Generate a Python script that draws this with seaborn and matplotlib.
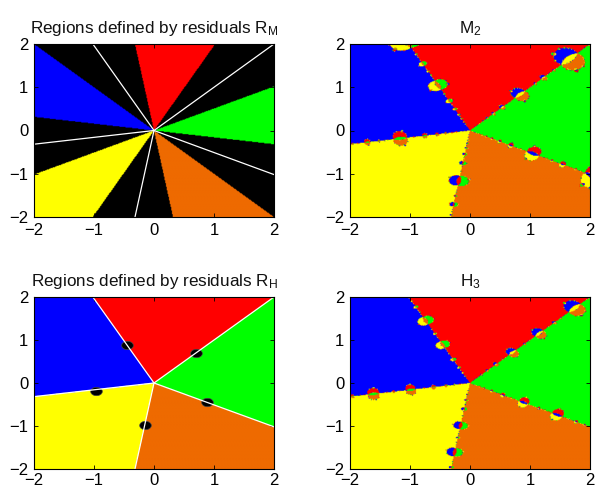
import numpy as np
import matplotlib
matplotlib.use("Agg")
import matplotlib.pyplot as plt
import seaborn as sns
import pandas as pd
from matplotlib.colors import to_rgb

# ---------------- data ----------------
root_angles_deg = [9, 81, 153, 225, 297]            # the five 5th roots of c = exp(i*45deg)
root_colors = ["#00FF00", "#FF0000", "#0000FF", "#FFFF00", "#EE6A00"]
boundary_angles_deg = [45, 117, 189, 261, 333]
wedge_half_width_deg = 18
dot_x = [-0.45, 0.70, 0.88, -0.15, -0.97]
dot_y = [0.88, 0.70, -0.45, -0.98, -0.18]
# rational iteration z <- z*(a*w+b)/(d*w+e), w = z^5/c
halley_coef = [4, 6, 6, 4]
m2_coef = [0.217, 0.783, 0.417, 0.583]
n_iter = 40
ticks = [-2, -1, 0, 1, 2]
titles = ["Regions defined by residuals $\\mathregular{R_M}$", "$\\mathregular{M_2}$",
          "Regions defined by residuals $\\mathregular{R_H}$", "$\\mathregular{H_3}$"]

# ---------------- style ----------------
sns.set_theme(style="ticks")
plt.rcParams["font.family"] = ["Liberation Sans", "DejaVu Sans"]
plt.rcParams["mathtext.fontset"] = "custom"
plt.rcParams["mathtext.rm"] = "Liberation Sans"
plt.rcParams["mathtext.it"] = "Liberation Sans"

NX, NY = 320, 240
xs = np.linspace(-2, 2, NX)
ys = np.linspace(2, -2, NY)
Z0 = xs[None, :] + 1j * ys[:, None]
palette = np.array([to_rgb(c) for c in root_colors])
roots = np.exp(1j * np.deg2rad(root_angles_deg))
cval = np.exp(1j * np.deg2rad(5 * root_angles_deg[0]))


def basin(coef):
    a, b, d, e = coef
    Z = Z0.copy()
    with np.errstate(all="ignore"):
        for _ in range(n_iter):
            w = Z ** 5 / cval
            Z = Z * (a * w + b) / (d * w + e)
            Z = np.where(np.isfinite(Z), Z, 1e3)
    idx = np.argmin(np.abs(Z[..., None] - roots), axis=-1)
    return palette[idx]


th = np.rad2deg(np.angle(Z0))
diff = np.abs(((th[..., None] - np.array(root_angles_deg)) + 180) % 360 - 180)
idx_sector = np.argmin(diff, axis=-1)
img_RH = palette[idx_sector]
img_RM = np.where((np.min(diff, axis=-1) < wedge_half_width_deg)[..., None], img_RH, 0.0)
img_M2 = basin(m2_coef)
img_H3 = basin(halley_coef)

fig = plt.figure(figsize=(5.96, 4.92), dpi=100)
W, H = 596, 492
def pos(l, t, r, b):
    return [l / W, 1 - b / H, (r - l) / W, (b - t) / H]

boxes = [pos(34, 44, 274, 217), pos(350, 44, 590, 217),
         pos(34, 297, 274, 469), pos(350, 297, 590, 469)]
images = [img_RM, img_M2, img_RH, img_H3]

for k, (box, img, title) in enumerate(zip(boxes, images, titles)):
    ax = fig.add_axes(box)
    ax.imshow(img, extent=[-2, 2, -2, 2], aspect="auto", interpolation="bilinear",
              origin="upper")
    if k in (0, 2):
        for ang in boundary_angles_deg:
            t = np.deg2rad(ang)
            ax.plot([0, 3 * np.cos(t)], [0, 3 * np.sin(t)], color="white", lw=0.9)
    if k == 2:
        dots = pd.DataFrame({"x": dot_x, "y": dot_y})
        tt = np.linspace(0, 2 * np.pi, 40)
        verts = list(zip(np.cos(tt), 0.72 * np.sin(tt)))
        sns.scatterplot(data=dots, x="x", y="y", ax=ax, color="black",
                        marker=verts, s=70, edgecolor="#444444", linewidth=0.5)
    ax.set_xlim(-2, 2)
    ax.set_ylim(-2, 2)
    ax.set_xticks(ticks)
    ax.set_yticks(ticks)
    ax.set_xticklabels([f"{v:d}".replace("-", "\u2212") for v in ticks])
    ax.set_yticklabels([f"{v:d}".replace("-", "\u2212") for v in ticks])
    ax.set_xlabel("")
    ax.set_ylabel("")
    ax.tick_params(direction="in", top=True, right=True, length=3, width=0.6,
                   labelsize=12, colors="black")
    ax.tick_params(axis="y", pad=4)
    ax.tick_params(axis="x", pad=4 if k < 2 else 3)
    for sp in ax.spines.values():
        sp.set_linewidth(0.8)
        sp.set_color("black")
        sp.set_visible(True)
    ax.set_title(title, fontsize=12.3, pad=8, color="#111111")

fig.savefig("out.png", dpi=100)
